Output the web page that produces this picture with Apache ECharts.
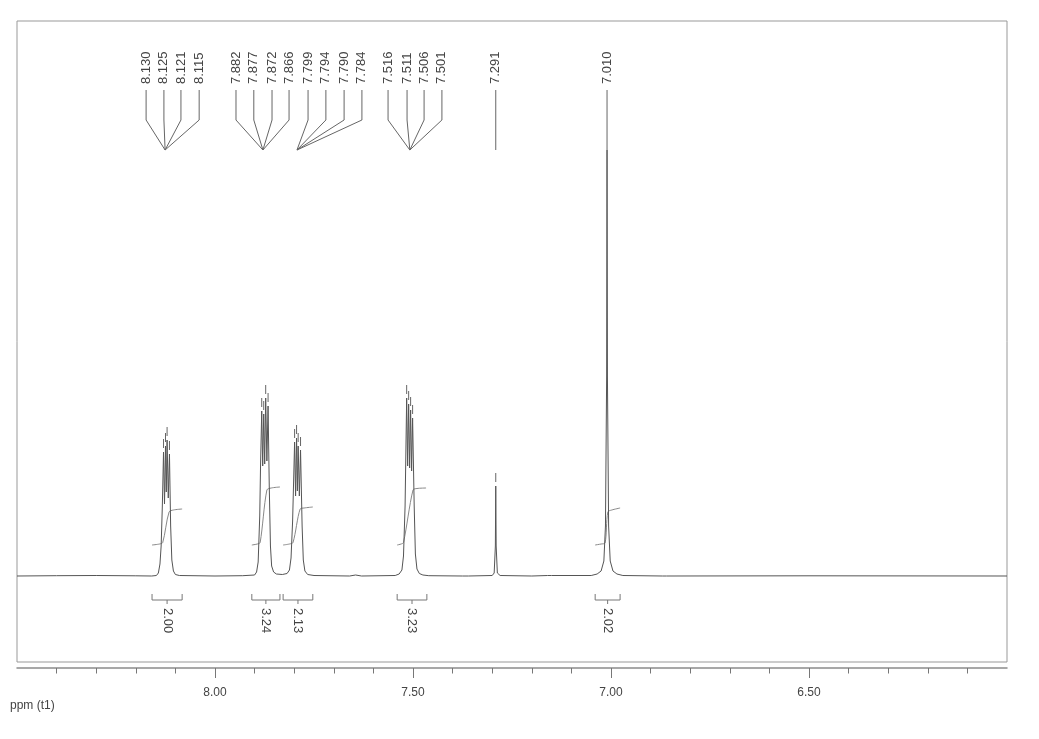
<!DOCTYPE html>
<html>
<head>
<meta charset="utf-8">
<title>1H NMR spectrum</title>
<script src="https://cdn.jsdelivr.net/npm/echarts@6.0.0/dist/echarts.min.js"></script>
<style>
    html, body { margin: 0; padding: 0; background: #fff; }
    #myChart { width: 1039px; height: 739px; }
</style>
</head>
<body>
<div id="myChart"></div>
<script>
    // picked peaks (ppm), as printed at the top
    const peakPpm = [8.130, 8.125, 8.121, 8.115,
        7.882, 7.877, 7.872, 7.866, 7.799, 7.794, 7.790, 7.784,
        7.516, 7.511, 7.506, 7.501, 7.291, 7.010];
    // where each label sits along the ppm scale, and where its leader line ends
    const labelSlots = [8.174, 8.129, 8.086, 8.040,
        7.947, 7.902, 7.856, 7.813, 7.765, 7.720, 7.674, 7.629,
        7.563, 7.515, 7.472, 7.427, 7.291, 7.010];
    const labelTargets = [8.126, 8.126, 8.126, 8.126,
        7.879, 7.879, 7.879, 7.879, 7.793, 7.793, 7.793, 7.793,
        7.508, 7.508, 7.508, 7.508, 7.291, 7.010];

    // spectrum trace [ppm, intensity]
    const trace = [
        [8.50, 0], [8.40, 0.3], [8.30, 0.5], [8.20, 0.2], [8.16, 0],
        [8.148, 0.5], [8.143, 3], [8.139, 12], [8.136, 30], [8.133, 70], [8.130, 124],
        [8.1275, 72], [8.125, 130], [8.123, 84], [8.121, 136], [8.118, 78], [8.115, 122],
        [8.112, 50], [8.109, 16], [8.105, 5], [8.100, 1.5], [8.09, 0.5],
        [8.00, 0], [7.93, 0.3],
        [7.900, 1], [7.895, 4], [7.891, 14], [7.887, 60], [7.885, 110], [7.882, 165],
        [7.8795, 110], [7.877, 162], [7.8745, 112], [7.872, 178], [7.869, 115], [7.866, 170],
        [7.863, 90], [7.860, 30], [7.857, 10], [7.852, 4], [7.845, 2], [7.830, 1.5], [7.818, 2.5],
        [7.812, 6], [7.808, 18], [7.804, 55], [7.799, 134], [7.7965, 80], [7.794, 138],
        [7.792, 85], [7.790, 130], [7.787, 80], [7.784, 126], [7.780, 50], [7.777, 16],
        [7.773, 5], [7.766, 1.5], [7.75, 0.5],
        [7.66, 0], [7.645, 1], [7.63, 0],
        [7.545, 0.5], [7.535, 2], [7.528, 6], [7.524, 20], [7.520, 70], [7.516, 178],
        [7.5135, 110], [7.511, 172], [7.5085, 108], [7.506, 166], [7.5035, 105], [7.501, 158],
        [7.497, 70], [7.494, 22], [7.490, 7], [7.484, 2.5], [7.475, 1], [7.46, 0.3],
        [7.375, 0], [7.37, 1], [7.36, 0],
        [7.30, 0.5], [7.295, 3], [7.292, 30], [7.291, 90], [7.290, 30], [7.287, 3], [7.28, 0.5],
        [7.20, 0], [7.16, 0.5], [7.155, 1.2], [7.15, 0.5],
        [7.05, 0.5], [7.035, 2], [7.025, 5], [7.018, 15], [7.014, 50], [7.011, 200],
        [7.010, 426], [7.009, 200], [7.006, 50], [7.002, 15], [6.995, 5], [6.985, 2], [6.97, 0.5],
        [6.87, 0], [6.865, 1], [6.86, 0], [6.50, 0.2], [6.00, 0]
    ];

    // integrals
    const integralRanges = [[8.159, 8.083], [7.907, 7.836], [7.828, 7.753], [7.540, 7.465], [7.040, 6.977]];
    const integralValues = ['2.00', '3.24', '2.13', '3.23', '2.02'];
    const integralCurves = [
        [[8.159, 31], [8.140, 32], [8.132, 33.5], [8.116, 64], [8.105, 66], [8.083, 67]],
        [[7.907, 31], [7.893, 32], [7.886, 33.5], [7.869, 86], [7.858, 88], [7.836, 89]],
        [[7.828, 31], [7.812, 32], [7.803, 33.5], [7.785, 67], [7.775, 68], [7.753, 69]],
        [[7.540, 31], [7.530, 32], [7.524, 33.5], [7.500, 86], [7.490, 87.5], [7.467, 88]],
        [[7.040, 31], [7.025, 32], [7.015, 33], [7.008, 64], [6.998, 66], [6.977, 68]]
    ];

    // axis ticks
    const majorTicks = [8.0, 7.5, 7.0, 6.5];
    const minorTicks = [8.4, 8.3, 8.2, 8.1, 7.9, 7.8, 7.7, 7.6, 7.4, 7.3, 7.2, 7.1,
        6.9, 6.8, 6.7, 6.6, 6.4, 6.3, 6.2, 6.1];

    const FONT = '"Liberation Sans", Arial, sans-serif';
    const INK = '#555';
    const LEADER_END = 426;

    function topOf(p) {
        for (let i = 0; i < trace.length; i++) {
            if (Math.abs(trace[i][0] - p) < 1e-6) return trace[i][1];
        }
        return 0;
    }

    let myChart = echarts.init(document.getElementById('myChart'));

    let series = [
        {
            name: 'spectrum',
            type: 'line',
            data: trace,
            showSymbol: false,
            lineStyle: { color: INK, width: 1 },
            z: 3
        },
        {
            // peak-pick marks just above each line
            name: 'marks',
            type: 'custom',
            data: peakPpm.map(p => [p, topOf(p)]),
            renderItem: function (params, api) {
                let top = api.value(1);
                if (top + 4 >= LEADER_END) return null;
                let a = api.coord([api.value(0), top + 4]);
                let b = api.coord([api.value(0), top + 13]);
                return { type: 'line', shape: { x1: a[0], y1: a[1], x2: b[0], y2: b[1] },
                    style: { stroke: '#666', lineWidth: 1 } };
            },
            z: 4
        },
        {
            // labels and leader lines
            name: 'labels',
            type: 'custom',
            data: peakPpm.map((p, i) => [p, labelSlots[i], labelTargets[i]]),
            renderItem: function (params, api) {
                let p = api.value(0), s = api.value(1), t = api.value(2);
                let c0 = api.coord([s, 486]), c1 = api.coord([s, 456]), c2 = api.coord([t, LEADER_END]);
                let tp = api.coord([s, 492]);
                return {
                    type: 'group',
                    children: [
                        { type: 'polyline', shape: { points: [c0, c1, c2] },
                            style: { stroke: '#666', lineWidth: 1, fill: null } },
                        { type: 'text', x: tp[0], y: tp[1], rotation: Math.PI / 2,
                            style: { text: p.toFixed(3), font: '13px ' + FONT, fill: '#444',
                                align: 'left', verticalAlign: 'middle' } }
                    ]
                };
            },
            z: 4
        },
        {
            // integral brackets below the baseline
            name: 'brackets',
            type: 'custom',
            data: integralRanges.map((r, i) => [r[0], r[1], i]),
            renderItem: function (params, api) {
                let l = api.value(0), r = api.value(1), m = (l + r) / 2;
                let pts = [api.coord([l, -18]), api.coord([l, -24]), api.coord([r, -24]), api.coord([r, -18])];
                let m0 = api.coord([m, -24]), m1 = api.coord([m, -28]), tp = api.coord([m, -32]);
                return {
                    type: 'group',
                    children: [
                        { type: 'polyline', shape: { points: pts }, style: { stroke: '#777', lineWidth: 1, fill: null } },
                        { type: 'line', shape: { x1: m0[0], y1: m0[1], x2: m1[0], y2: m1[1] },
                            style: { stroke: '#777', lineWidth: 1 } },
                        { type: 'text', x: tp[0], y: tp[1], rotation: -Math.PI / 2,
                            style: { text: integralValues[params.dataIndex], font: '13px ' + FONT, fill: '#444',
                                align: 'left', verticalAlign: 'middle' } }
                    ]
                };
            },
            z: 4
        }
    ];

    integralCurves.forEach(function (curve, i) {
        series.push({
            name: 'integral ' + integralValues[i],
            type: 'line',
            data: curve,
            showSymbol: false,
            smooth: 0.3,
            lineStyle: { color: '#888', width: 1 },
            z: 2
        });
    });

    let option = {
        backgroundColor: '#fff',
        animation: false,
        grid: {
            left: 17, right: 32, top: 21, bottom: 77,
            show: true, borderColor: '#999', borderWidth: 1
        },
        xAxis: [
            {
                type: 'value', min: 6.0, max: 8.5, inverse: true,
                position: 'bottom', offset: 6,
                axisLine: { show: true, onZero: false, lineStyle: { color: '#8c8c8c', width: 1.5 } },
                axisTick: { show: true, customValues: majorTicks, length: 10, lineStyle: { color: '#777' } },
                axisLabel: { customValues: majorTicks, formatter: v => v.toFixed(2), margin: 19,
                    color: '#444', fontSize: 12, fontFamily: FONT },
                splitLine: { show: false }
            },
            {
                type: 'value', min: 6.0, max: 8.5, inverse: true,
                position: 'bottom', offset: 6,
                axisLine: { show: false, onZero: false },
                axisTick: { show: true, customValues: minorTicks, length: 5.5, lineStyle: { color: '#777' } },
                axisLabel: { show: false },
                splitLine: { show: false }
            }
        ],
        yAxis: { type: 'value', min: -86, max: 555, show: false },
        graphic: [
            { type: 'text', left: 10, top: 700, style: { text: 'ppm (t1)', font: '12px ' + FONT, fill: '#444' } }
        ],
        series: series
    };
    myChart.setOption(option);
</script>
</body>
</html>
